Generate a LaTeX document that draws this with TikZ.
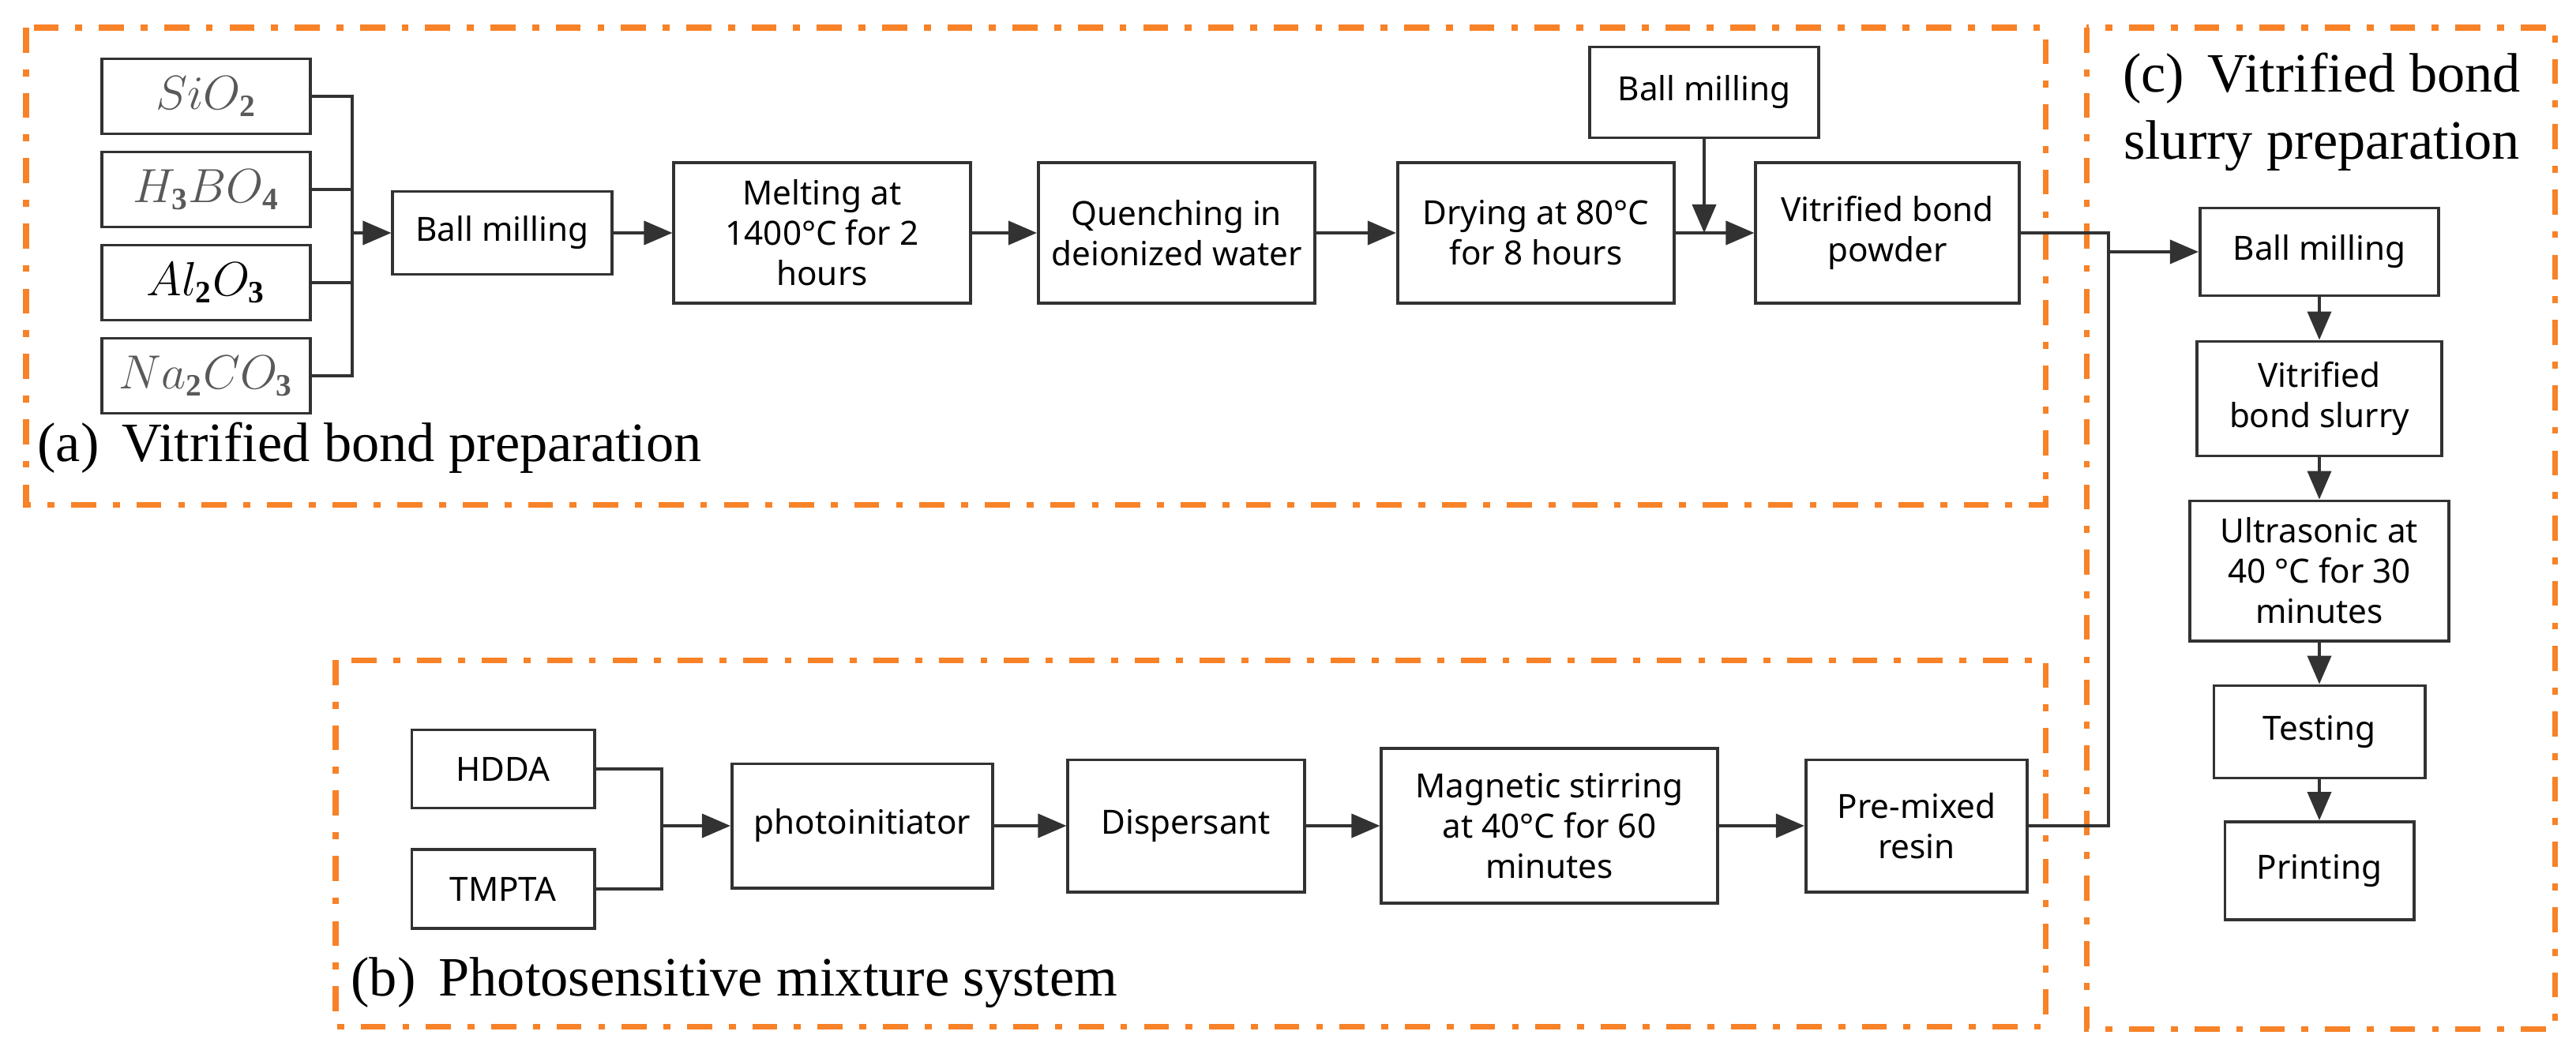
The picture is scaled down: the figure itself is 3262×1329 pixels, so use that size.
\documentclass[tikz,border=0pt]{standalone}
\usepackage{fontspec}
\setmainfont{Liberation Serif}
\newfontfamily\boxfont{Noto Sans}
\usetikzlibrary{arrows.meta, positioning}
\definecolor{frameorange}{RGB}{247,130,40}
\definecolor{boxline}{RGB}{50,50,50}
\tikzset{
  stage/.style = {rectangle, draw=boxline, line width=1.1pt, align=center, inner sep=2pt, font=\boxfont\fontsize{12}{14.5}\selectfont},
  chem/.style = {stage, minimum width=2.64cm, minimum height=0.95cm, text=black!65, font=\fontsize{16}{18}\selectfont},
  connector/.style = {line width=1.1pt, draw=boxline, -{Triangle[length=3.6mm,width=3mm]}},
  joinline/.style = {line width=1.1pt, draw=boxline},
  frame/.style = {draw=frameorange, line width=2pt, dash pattern=on 9pt off 6pt on 2.5pt off 6pt},
  caption/.style = {font=\fontsize{20}{24}\selectfont, align=center}
}
\begin{document}
\begin{tikzpicture}[x=0.01cm, y=-0.01cm]
  \useasboundingbox (0,0) rectangle (3262,1329);

  % Dashed frames
  \draw[frame] (33,35) rectangle (2590,639);
  \draw[frame] (425,836) rectangle (2590,1300);
  \draw[frame] (2642,35) rectangle (3235,1303);

  % Frame captions
  \node (capa) [caption, anchor=west] at (35,567) {(a)\,\ Vitrified bond preparation};
  \node (capb) [caption, anchor=west] at (432,1245) {(b)\,\ Photosensitive mixture system};
  \node (capc) [caption] at (2940,142) {(c)\,\ Vitrified bond\\slurry preparation};

  % (a) raw materials
  \node (sio) [chem] at (261,122) {$SiO_{\mathbf{2}}$};
  \node (hbo) [chem] at (261,240) {$H_{\mathbf{3}}BO_{\mathbf{4}}$};
  \node (alo) [chem, text=black] at (261,358) {$Al_{\mathbf{2}}O_{\mathbf{3}}$};
  \node (nco) [chem] at (261,476) {$Na_{\mathbf{2}}CO_{\mathbf{3}}$};
  \coordinate (joina) at (446,295);

  % (a) process chain
  \node (mill1) [stage, minimum width=2.77cm, minimum height=1.05cm] at (636,295) {Ball milling};
  \node (melt) [stage, minimum width=3.75cm, minimum height=1.78cm] at (1041,295) {Melting at\\1400{\textdegree}C for 2\\hours};
  \node (quench) [stage, minimum width=3.5cm, minimum height=1.78cm] at (1490,295) {Quenching in\\deionized water};
  \node (dry) [stage, minimum width=3.5cm, minimum height=1.78cm] at (1945,295) {Drying at 80{\textdegree}C\\for 8 hours};
  \node (powder) [stage, minimum width=3.33cm, minimum height=1.78cm] at (2390,295) {Vitrified bond\\powder};
  \node (mill2) [stage, minimum width=2.89cm, minimum height=1.15cm] at (2158,117) {Ball milling};
  \coordinate (merge) at (2158,295);

  % (b) resin chain
  \node (hdda) [stage, minimum width=2.31cm, minimum height=0.99cm] at (637,974) {HDDA};
  \node (tmpta) [stage, minimum width=2.31cm, minimum height=1.0cm] at (637,1126) {TMPTA};
  \coordinate (joinb) at (838,1046);
  \node (photo) [stage, minimum width=3.3cm, minimum height=1.57cm] at (1092,1046) {photoinitiator};
  \node (disp) [stage, minimum width=2.99cm, minimum height=1.67cm] at (1502,1046) {Dispersant};
  \node (stir) [stage, minimum width=4.25cm, minimum height=1.96cm] at (1962,1046) {Magnetic stirring\\at 40{\textdegree}C for 60\\minutes};
  \node (resin) [stage, minimum width=2.8cm, minimum height=1.67cm] at (2427,1046) {Pre-mixed\\resin};

  % (c) slurry chain
  \node (mill3) [stage, minimum width=3.02cm, minimum height=1.11cm] at (2937,319) {Ball milling};
  \node (slurry) [stage, minimum width=3.1cm, minimum height=1.45cm] at (2937,505) {Vitrified\\bond slurry};
  \node (sonic) [stage, minimum width=3.27cm, minimum height=1.77cm] at (2937,723) {Ultrasonic at\\40 {\textdegree}C for 30\\minutes};
  \node (test) [stage, minimum width=2.67cm, minimum height=1.17cm] at (2937,927) {Testing};
  \node (print) [stage, minimum width=2.39cm, minimum height=1.24cm] at (2937,1103) {Printing};
  \coordinate (bus) at (2670,319);

  % Draw connections (a)
  \draw[joinline] (sio.east) -| (joina);
  \draw[joinline] (hbo.east) -| (joina);
  \draw[joinline] (alo.east) -| (joina);
  \draw[joinline] (nco.east) -| (joina);
  \draw[connector] (joina) -- (mill1.west);
  \draw[connector] (mill1) -- (melt);
  \draw[connector] (melt) -- (quench);
  \draw[connector] (quench) -- (dry);
  \draw[connector] (dry) -- (powder);
  \draw[connector] (mill2.south) -- (merge);

  % Draw connections (b)
  \draw[joinline] (hdda.east) -| (joinb);
  \draw[joinline] (tmpta.east) -| (joinb);
  \draw[connector] (joinb) -- (photo.west);
  \draw[connector] (photo) -- (disp);
  \draw[connector] (disp) -- (stir);
  \draw[connector] (stir) -- (resin);

  % Both branches join the slurry preparation
  \draw[joinline] (powder.east) -| (bus);
  \draw[joinline] (resin.east) -| (bus);
  \draw[connector] (bus) -- (mill3.west);

  % Draw connections (c)
  \draw[connector] (mill3) -- (slurry);
  \draw[connector] (slurry) -- (sonic);
  \draw[connector] (sonic) -- (test);
  \draw[connector] (test) -- (print);

\end{tikzpicture}
\end{document}
